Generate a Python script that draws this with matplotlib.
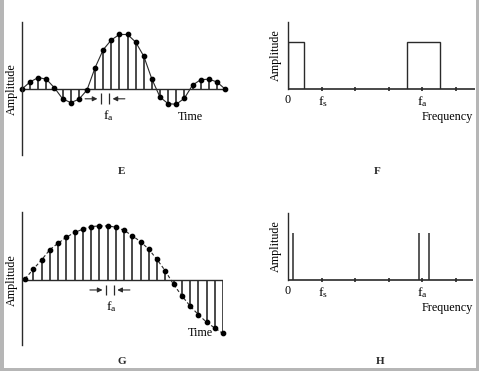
import matplotlib
matplotlib.use("Agg")
import matplotlib.pyplot as plt
from matplotlib.patches import Rectangle
import numpy as np

plt.rcParams['font.family'] = ['Liberation Serif', 'DejaVu Serif']
plt.rcParams['mathtext.fontset'] = 'stix'

# sampled signal, panel E (sinc-like burst), amplitude relative to peak
E_values = [0, 0.13, 0.21, 0.18, 0.02, -0.18, -0.25, -0.19, -0.02, 0.39, 0.72,
            0.90, 1.0, 1.0, 0.86, 0.60, 0.18, -0.15, -0.27, -0.28, -0.17, 0.07,
            0.17, 0.18, 0.13, 0]
# sampled signal, panel G (slow sine)
G_values = [0.02, 0.20, 0.37, 0.56, 0.68, 0.79, 0.88, 0.94, 0.99, 1.0, 1.0,
            0.98, 0.92, 0.82, 0.71, 0.57, 0.38, 0.17, -0.08, -0.29, -0.48,
            -0.64, -0.78, -0.89, -0.99]
# spectra, frequency in tick units (0 .. 5)
freq_ticks = [1, 2, 3, 4, 5]
F_bands = [(0, 0.48), (3.54, 4.52)]
F_height = 0.70
H_lines = [0.16, 3.90, 4.19]
H_height = 0.70

W, H = 479, 371
ink = '#2a2a2a'
fs = 8.7

fig = plt.figure(figsize=(W / 100, H / 100), dpi=100)
fig.patch.set_facecolor('white')


def box(x0, y0, x1, y1):
    # pixel box (top-left origin) -> figure fraction axes
    return fig.add_axes([x0 / W, 1 - y1 / H, (x1 - x0) / W, (y1 - y0) / H])


def clean(ax):
    for s in ['top', 'right', 'bottom']:
        ax.spines[s].set_visible(False)
    ax.spines['left'].set_color(ink)
    ax.spines['left'].set_linewidth(1.0)
    ax.set_xticks([])
    ax.set_yticks([])
    ax.patch.set_alpha(0)


def arrows(ax, xl, xr, y, bh):
    kw = dict(arrowstyle='-|>', color=ink, lw=0.8, mutation_scale=7)
    ax.annotate('', xy=(xl - 0.1, y), xytext=(xl - 2.3, y), arrowprops=kw,
                annotation_clip=False)
    ax.annotate('', xy=(xr + 0.1, y), xytext=(xr + 2.3, y), arrowprops=kw,
                annotation_clip=False)
    ax.vlines([xl, xr], y - bh, y + bh, color=ink, lw=0.9, clip_on=False)


# ---- panel E
ax = box(22, 22, 225, 155)
clean(ax)
xe = np.arange(len(E_values))
ax.set_xlim(0, len(E_values) - 1)
ax.set_ylim(-1.211, 1.229)
ax.hlines(0, 0, len(E_values) - 1, color=ink, lw=1.0)
ax.vlines(xe, 0, E_values, color=ink, lw=1.2)
ax.plot(xe, E_values, '-', color=ink, lw=0.8, clip_on=False)
ax.plot(xe, E_values, 'o', color='black', ms=3.1, clip_on=False)
arrows(ax, 9.73, 10.71, -0.18, 0.1)
ax.text(10.6, -0.48, r'$\mathregular{f_a}$', ha='center', va='center', fontsize=fs + 1)
ax.text(20.7, -0.51, 'Time', ha='center', va='center', fontsize=fs)
ax.text(-1.23, 0, 'Amplitude', rotation=90, ha='center', va='center', fontsize=fs)

# ---- panel G
ax = box(22, 212, 223, 345)
clean(ax)
xg = np.arange(len(G_values))
ax.set_xlim(-0.365, len(G_values) - 1)
ax.set_ylim(-1.204, 1.259)
ax.hlines(0, -0.365, len(G_values) - 1, color=ink, lw=1.0)
ax.vlines(xg, 0, G_values, color=ink, lw=1.2)
ax.plot(xg, G_values, color=ink, lw=0.8, ls=(0, (3, 2)), clip_on=False)
ax.plot(xg, G_values, 'o', color='black', ms=3.1, clip_on=False)
arrows(ax, 9.83, 10.75, -0.185, 0.1)
ax.text(10.5, -0.5, r'$\mathregular{f_a}$', ha='center', va='center', fontsize=fs + 1)
ax.text(21.2, -0.98, 'Time', ha='center', va='center', fontsize=fs)
ax.text(-1.58, 0, 'Amplitude', rotation=90, ha='center', va='center', fontsize=fs)


# ---- spectra F and H
def spectrum_axes(x0, y0, x1, y1):
    ax = box(x0, y0, x1, y1)
    clean(ax)
    ax.set_xlim(0, (x1 - x0) / 33.6)
    ax.set_ylim(0, 1)
    ax.hlines(0, 0, (x1 - x0) / 33.6, color=ink, lw=1.2, clip_on=False)
    ax.vlines(freq_ticks, -0.035, 0.035, color=ink, lw=1.2, clip_on=False)
    ax.text(0, -0.16, '0', ha='center', va='center', fontsize=fs)
    ax.text(1.05, -0.19, r'$\mathregular{f_s}$', ha='center', va='center', fontsize=fs + 1)
    ax.text(4.0, -0.19, r'$\mathregular{f_a}$', ha='center', va='center', fontsize=fs + 1)
    ax.text(4.73, -0.42, 'Frequency', ha='center', va='center', fontsize=fs)
    ax.text(-0.36, 0.51, 'Amplitude', rotation=90, ha='center', va='center', fontsize=fs)
    return ax


ax = spectrum_axes(288, 22, 475, 89)
for a, b in F_bands:
    ax.plot([a, a, b, b], [0, F_height, F_height, 0], color=ink, lw=1.0,
            solid_joinstyle='miter')

ax = spectrum_axes(288, 213, 473, 280)
ax.vlines(H_lines, 0, H_height, color=ink, lw=1.1)

# panel letters
for lab, px, py in [('E', 122, 172), ('F', 377, 172), ('G', 122, 362), ('H', 380, 362)]:
    fig.text(px / W, 1 - py / H, lab, ha='center', va='center',
             fontsize=8, fontweight='bold', color=ink)

# scanned page border
gray = '#b6b6b6'
for x0, y0, w, h in [(0, 0, 4, H), (476, 0, 3, H), (0, 368, W, 3)]:
    fig.add_artist(Rectangle((x0 / W, 1 - (y0 + h) / H), w / W, h / H,
                             transform=fig.transFigure, color=gray, lw=0))

fig.savefig('out.png', dpi=100)
